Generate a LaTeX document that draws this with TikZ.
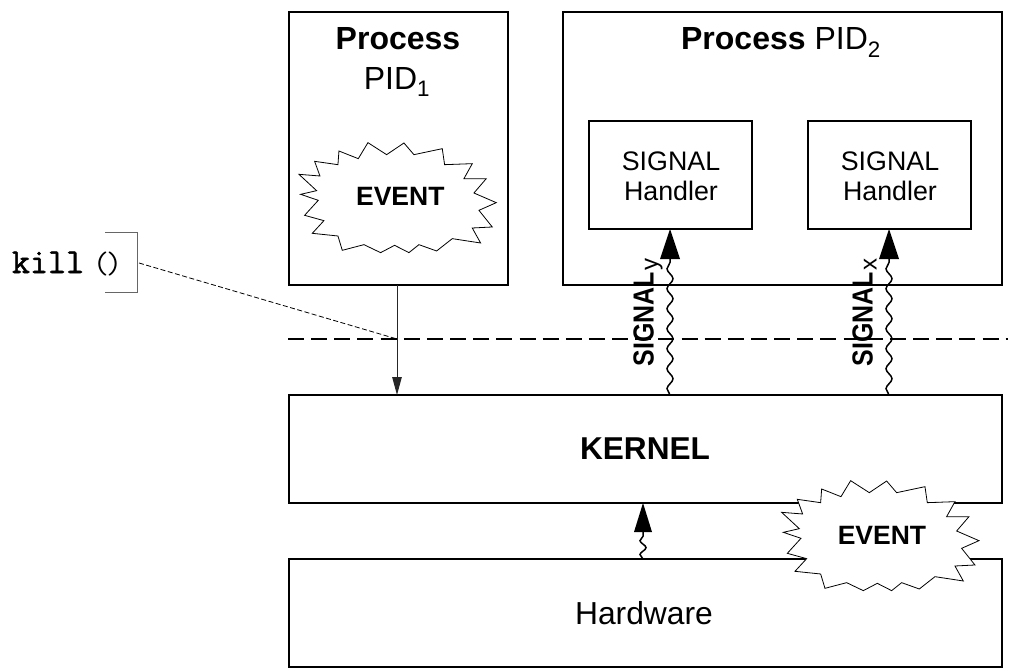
\documentclass[tikz,border=0pt]{standalone}
\usepackage{fontspec}
\usepackage{graphicx}
\setmainfont{Liberation Sans}
\newfontfamily\killfont[FakeBold=1.6]{Latin Modern Mono}
\usetikzlibrary{decorations.pathmorphing,arrows.meta}
\tikzset{
  boxn/.style={draw=black,line width=1.5pt,anchor=north west,outer sep=0pt,inner sep=0pt,align=center,fill=white},
  wavy/.style={draw=black,line width=1.5pt,decorate,decoration={snake,segment length=20pt,amplitude=3pt,post=lineto,post length=0pt}},
  bighead/.style={fill=black,draw=none},
  starshape/.style={draw=black,line width=0.8pt,fill=white,line join=miter},
  lab/.style={inner sep=0pt,outer sep=0pt},
  eventlab/.style={lab,font=\fontsize{26.5}{30}\selectfont\bfseries},
  handlerlab/.style={lab,font=\fontsize{26.8}{30}\selectfont,align=center},
  siglab/.style={lab,rotate=90,anchor=base west},
}
\newcommand{\starpath}{(592,88) -- (608,132) -- (545,127) -- (598,176) -- (550,187) -- (603,205) -- (562,250) -- (620,266) -- (585,304) -- (662,312) -- (675,355) -- (740,338) -- (790,362) -- (832,340) -- (875,362) -- (905,338) -- (958,357) -- (1005,320) -- (1090,333) -- (1065,288) -- (1125,285) -- (1085,235) -- (1137,212) -- (1070,183) -- (1107,140) -- (1040,140) -- (1065,95) -- (982,98) -- (975,50) -- (890,68) -- (860,33) -- (808,68) -- (752,32) -- (723,80) -- (665,57) -- (662,98) -- cycle}
\newcommand{\siglabel}[1]{\scalebox{0.86}[1]{\fontsize{29}{32}\selectfont\bfseries SIGNAL}\hspace{1pt}\raisebox{-4pt}{\fontsize{24}{26}\selectfont #1}}
\begin{document}
\begin{tikzpicture}[x=1pt,y=-1pt]
\useasboundingbox (0,0) rectangle (1013,669);
% boxes
\node[boxn,minimum width=219pt,minimum height=273pt] (p1) at (289,12) {};
\node[boxn,minimum width=439pt,minimum height=273pt] (p2) at (563,12) {};
\node[boxn,minimum width=163pt,minimum height=108pt] (h1) at (589,121) {};
\node[boxn,minimum width=163pt,minimum height=108pt] (h2) at (808,121) {};
\node[boxn,minimum width=713pt,minimum height=108pt] (kernel) at (289,395) {};
\node[boxn,minimum width=713pt,minimum height=108pt] (hw) at (289,559) {};
% texts
\node[lab,anchor=base,font=\fontsize{32}{36}\selectfont\bfseries] (t1) at (398,50) {Process};
\node[lab,anchor=base,font=\fontsize{32}{36}\selectfont] (t1b) at (397,90) {PID\textsubscript{1}};
\node[lab,anchor=base,font=\fontsize{32}{36}\selectfont] (t2) at (781,50) {\textbf{Process} PID\textsubscript{2}};
\node[handlerlab] (th1) at (671,176) {SIGNAL\\Handler};
\node[handlerlab] (th2) at (890,176) {SIGNAL\\Handler};
\node[lab,font=\fontsize{31.6}{36}\selectfont\bfseries] (tk) at (645,449) {KERNEL};
\node[lab,font=\fontsize{31.8}{36}\selectfont] (thw) at (644,613) {Hardware};
% dashed boundary
\coordinate (dl) at (288,339);
\coordinate (dr) at (1008,339);
\draw[line width=1.6pt,dash pattern=on 16pt off 7.15pt] (dl) -- (dr);
% stars
\begin{scope}[shift={(117.3,132)},x=0.3333pt,y=-0.3333pt]
\draw[starshape] \starpath;
\node[eventlab] (e1) at (849,192) {EVENT};
\end{scope}
\begin{scope}[shift={(600,470)},x=0.3333pt,y=-0.3333pt]
\draw[starshape] \starpath;
\node[eventlab] (e2) at (846,195) {EVENT};
\end{scope}
% signal connectors
\coordinate (a1) at (670,395); \coordinate (a1h) at (670,259); \coordinate (a1t) at (670,229);
\coordinate (a2) at (889,395); \coordinate (a2h) at (889,259); \coordinate (a2t) at (889,229);
\coordinate (a3) at (643,559); \coordinate (a3h) at (643,532); \coordinate (a3t) at (643,503);
\draw[wavy] (a1) -- (a1h);
\draw[wavy] (a2) -- (a2h);
\draw[wavy,decoration={segment length=14pt,amplitude=3pt}] (a3) -- (a3h);
\fill[bighead] (a1t) -- ++(-10,30) -- ++(20,0) -- cycle;
\fill[bighead] (a2t) -- ++(-10,30) -- ++(20,0) -- cycle;
\fill[bighead] (a3t) -- ++(-9,29) -- ++(18,0) -- cycle;
\node[siglab] (sy) at (653.5,366) {\siglabel{y}};
\node[siglab] (sx) at (872.5,366) {\siglabel{x}};
% system call arrow
\coordinate (a4s) at (397,285); \coordinate (a4e) at (397,395);
\draw[line width=1pt,draw=black!85,-{Triangle[length=18pt,width=9.5pt]}] (a4s) -- (a4e);
% kill
\node[lab,anchor=base west] (kill) at (12,273) {\fontsize{35}{36}\selectfont\killfont kill\hspace{9pt}\fontsize{31}{34}\ttfamily\selectfont (\kern-3pt)};
\coordinate (bs) at (105,232.7); \coordinate (bt) at (137,232.7); \coordinate (bc) at (137,292.7); \coordinate (be) at (105,292.7);
\coordinate (kf) at (139,263); \coordinate (kt) at (397,339);
\draw[line width=1pt,draw=black!60] (bs) -- (bt) -- (bc) -- (be);
\draw[line width=0.8pt,dash pattern=on 5pt off 2.5pt] (kf) -- (kt);
\end{tikzpicture}
\end{document}
